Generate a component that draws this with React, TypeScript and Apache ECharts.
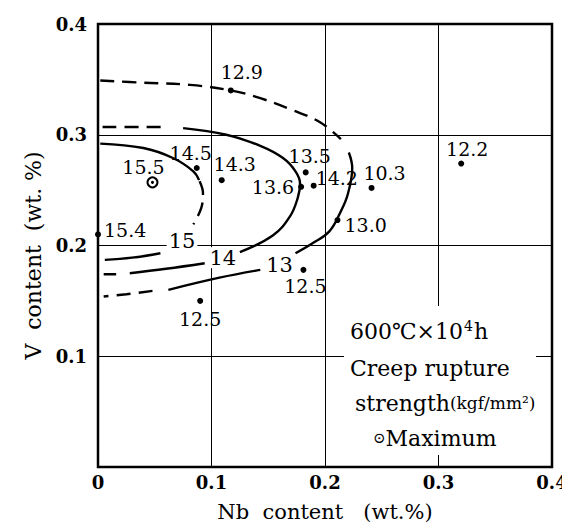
import React, { useEffect, useRef } from 'react';
import * as echarts from 'echarts';

// ---- data ----
const xTicks = [0, 0.1, 0.2, 0.3, 0.4];
const yTicks = [0, 0.1, 0.2, 0.3, 0.4];

const pointNames = ['12.9', '14.5', '14.3', '13.6', '13.5', '14.2', '10.3', '13.0', '12.2', '15.4', '12.5', '12.5'];
const pointNb = [0.117, 0.087, 0.109, 0.179, 0.183, 0.190, 0.241, 0.211, 0.320, 0.0, 0.090, 0.181];
const pointV = [0.340, 0.270, 0.259, 0.253, 0.266, 0.254, 0.252, 0.223, 0.274, 0.210, 0.150, 0.178];

const maxName = '15.5';
const maxNb = [0.048];
const maxV = [0.257];

// contour 15
const c15TopSolid = [[0.002, 0.292], [0.040, 0.288], [0.066, 0.279], [0.084, 0.267], [0.089, 0.259]];
const c15Dashed = [[0.0895, 0.258], [0.0925, 0.247], [0.091, 0.234], [0.084, 0.219]];
const c15BottomSolid = [[0.055, 0.193], [0.030, 0.189], [0.006, 0.187]];
// contour 14
const c14TopDashed = [[0.004, 0.307], [0.062, 0.307]];
const c14Solid = [[0.075, 0.306], [0.113, 0.300], [0.143, 0.290], [0.163, 0.279], [0.174, 0.267], [0.178, 0.256], [0.176, 0.243], [0.169, 0.226], [0.154, 0.209], [0.125, 0.194]];
const c14BottomSolid = [[0.094, 0.184], [0.060, 0.179], [0.028, 0.175]];
const c14BottomDashed = [[0.016, 0.174], [0.005, 0.174]];
// contour 13
const c13TopDashed = [[0.002, 0.349], [0.040, 0.347], [0.081, 0.345], [0.117, 0.340], [0.143, 0.333], [0.172, 0.322], [0.196, 0.311], [0.214, 0.296]];
const c13Solid = [[0.221, 0.284], [0.224, 0.270], [0.220, 0.246], [0.214, 0.231], [0.204, 0.213], [0.189, 0.202], [0.174, 0.193]];
const c13BottomSolid = [[0.143, 0.178], [0.107, 0.171], [0.062, 0.160]];
const c13BottomDashed = [[0.048, 0.159], [0.025, 0.156], [0.005, 0.154]];

const contourLabels = ['15', '14', '13'];
const contourLabelNb = [0.074, 0.110, 0.160];
const contourLabelV = [0.204, 0.189, 0.182];

// label placement (style)
const labelPlacement: [string, number[]][] = [
  ['top', [11, -2]],
  ['top', [-6, 2]],
  ['top', [13, 0]],
  ['left', [0, 0]],
  ['top', [4, 0]],
  ['right', [-5, -8]],
  ['top', [13, 2]],
  ['right', [0, 5]],
  ['top', [6, 2]],
  ['right', [-1, -4]],
  ['bottom', [0, 2]],
  ['bottom', [2, 0]],
];

const FONT = "'DejaVu Serif', 'Liberation Serif', 'Noto Sans CJK JP', serif";
const DASH = [14, 8];

function lineSeries(data: number[][], dashed: boolean) {
  return {
    type: 'line',
    data,
    smooth: 0.4,
    symbol: 'none',
    silent: true,
    z: 3,
    lineStyle: { color: '#000', width: 2.4, type: dashed ? DASH : 'solid', cap: 'butt' },
  };
}

export default function App() {
  const ref = useRef<HTMLDivElement>(null);
  useEffect(() => {
    if (!ref.current) return;
    const chart = echarts.init(ref.current, undefined, { renderer: 'svg' });
    const points = pointNames.map((n, i) => ({
      name: n,
      value: [pointNb[i], pointV[i]],
      label: { position: labelPlacement[i][0], offset: labelPlacement[i][1] },
    }));
    const option: any = {
      animation: false,
      backgroundColor: '#fff',
      grid: {
        left: 90, right: 26, top: 16, bottom: 65,
        show: true, borderColor: '#000', borderWidth: 2.5, backgroundColor: 'transparent',
      },
      xAxis: {
        type: 'value', min: xTicks[0], max: xTicks[xTicks.length - 1], interval: 0.1,
        name: 'Nb  content   (wt.%)', nameLocation: 'middle', nameGap: 34,
        nameTextStyle: { fontFamily: FONT, fontSize: 21, color: '#000' },
        axisLine: { show: false }, axisTick: { show: false },
        axisLabel: {
          fontFamily: FONT, fontSize: 18, fontWeight: 'bold', color: '#000', margin: 6,
          formatter: (v: number) => String(xTicks.find((t) => Math.abs(t - v) < 1e-9) ?? v),
        },
        splitLine: { show: true, lineStyle: { color: '#000', width: 1 } },
      },
      yAxis: {
        type: 'value', min: yTicks[0], max: yTicks[yTicks.length - 1], interval: 0.1,
        name: 'V  content  (wt. %)', nameLocation: 'middle', nameGap: 50,
        nameTextStyle: { fontFamily: FONT, fontSize: 22, color: '#000', padding: [0, 20, 0, 0] },
        axisLine: { show: false }, axisTick: { show: false },
        axisLabel: {
          fontFamily: FONT, fontSize: 18, fontWeight: 'bold', color: '#000', margin: 11,
          formatter: (v: number) => (v === 0 ? '' : String(yTicks.find((t) => Math.abs(t - v) < 1e-9) ?? v)),
        },
        splitLine: { show: true, lineStyle: { color: '#000', width: 1 } },
      },
      graphic: [
        { type: 'rect', z: 1, shape: { x: 336, y: 298, width: 192, height: 149 }, style: { fill: '#fff' } },
        {
          type: 'text', z: 10, x: 342, y: 323,
          style: {
            text: '{a|600℃×10}{s|4}{a|h}', verticalAlign: 'middle',
            rich: {
              a: { fontFamily: FONT, fontSize: 22, fill: '#000' },
              s: { fontFamily: FONT, fontSize: 14, fill: '#000', verticalAlign: 'top', padding: [0, 1, 10, 1] },
            },
          },
        },
        {
          type: 'text', z: 10, x: 342, y: 360,
          style: { text: 'Creep rupture', fontFamily: FONT, fontSize: 22, fill: '#000', verticalAlign: 'middle' },
        },
        {
          type: 'text', z: 10, x: 347, y: 395,
          style: {
            text: '{a|strength}{b|(kgf/mm²)}', verticalAlign: 'middle',
            rich: {
              a: { fontFamily: FONT, fontSize: 22, fill: '#000' },
              b: { fontFamily: FONT, fontSize: 17, fill: '#000' },
            },
          },
        },
        {
          type: 'text', z: 10, x: 365, y: 430,
          style: {
            text: '{c|⊙}{a|Maximum}', verticalAlign: 'middle',
            rich: {
              a: { fontFamily: FONT, fontSize: 22, fill: '#000' },
              c: { fontFamily: FONT, fontSize: 15, fill: '#000' },
            },
          },
        },
      ],
      series: [
        lineSeries(c15TopSolid, false),
        lineSeries(c15Dashed, true),
        lineSeries(c15BottomSolid, false),
        lineSeries(c14TopDashed, true),
        lineSeries(c14Solid, false),
        lineSeries(c14BottomSolid, false),
        lineSeries(c14BottomDashed, true),
        lineSeries(c13TopDashed, true),
        lineSeries(c13Solid, false),
        lineSeries(c13BottomSolid, false),
        lineSeries(c13BottomDashed, true),
        {
          type: 'scatter', z: 4, silent: true,
          data: contourLabels.map((n, i) => ({ name: n, value: [contourLabelNb[i], contourLabelV[i]] })),
          symbolSize: 0,
          itemStyle: { opacity: 1 },
          label: {
            show: true, position: 'inside', formatter: '{b}',
            fontFamily: FONT, fontSize: 21, color: '#000',
            backgroundColor: '#fff', padding: [0, 2],
          },
        },
        {
          type: 'scatter', z: 5, silent: true,
          data: points,
          symbol: 'circle', symbolSize: 6,
          itemStyle: { color: '#000', opacity: 1 },
          label: { show: true, formatter: '{b}', fontFamily: FONT, fontSize: 19, color: '#000', distance: 4 },
        },
        {
          type: 'scatter', z: 5, silent: true,
          data: maxNb.map((x, i) => ({ name: maxName, value: [x, maxV[i]] })),
          symbol: 'emptyCircle', symbolSize: 10,
          itemStyle: { color: '#000', borderWidth: 1.6, opacity: 1 },
          label: { show: true, formatter: '{b}', position: 'top', offset: [-9, 5], fontFamily: FONT, fontSize: 19, color: '#000' },
        },
        {
          type: 'scatter', z: 6, silent: true,
          data: maxNb.map((x, i) => [x, maxV[i]]),
          symbol: 'circle', symbolSize: 3,
          itemStyle: { color: '#000', opacity: 1 },
        },
      ],
    };
    chart.setOption(option);
    return () => chart.dispose();
  }, []);
  return <div ref={ref} style={{ width: 570, height: 524 }} />;
}
